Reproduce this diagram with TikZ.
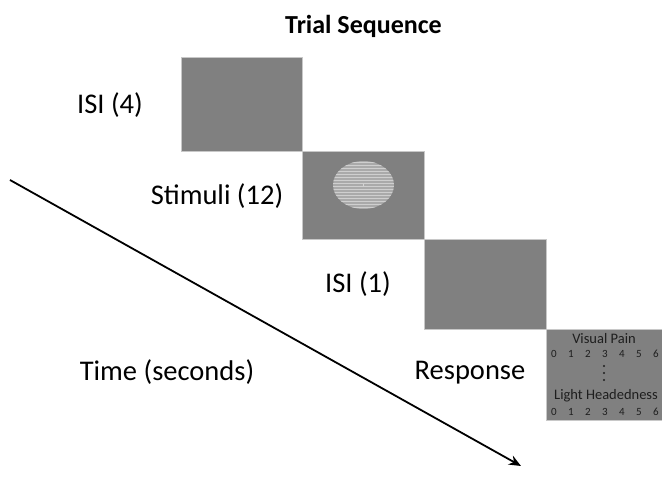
\documentclass[tikz,border=0pt]{standalone}
\usepackage{fontspec}
\setmainfont{Carlito}
\usetikzlibrary{arrows.meta}
\definecolor{boxgray}{HTML}{808080}
\definecolor{edgegray}{HTML}{C8C8C8}
\definecolor{stimgray}{HTML}{AAAAAA}
\definecolor{stimline}{HTML}{CFCFCF}
\definecolor{txtdark}{HTML}{1E1E1E}
\begin{document}
\begin{tikzpicture}[x=1pt,y=-1pt,
  screen/.style={draw=edgegray,line width=1pt,fill=boxgray},
  lbl/.style={font=\fontsize{28.5}{30}\selectfont,anchor=center,inner sep=0pt},
  small/.style={font=\fontsize{14.5}{16}\selectfont,text=txtdark,inner sep=0pt},
  tiny/.style={font=\fontsize{11}{12}\selectfont,text=txtdark,inner sep=0pt}]
\useasboundingbox (0,0) rectangle (662,481);
% title
\node[font=\bfseries\fontsize{26}{28}\selectfont,inner sep=0pt] (title) at (363.5,26) {Trial Sequence};
% screens
\path[screen] (181,58) rectangle (302,152) coordinate (s1);
\path[screen] (302,152) rectangle (424,240) coordinate (s2);
\path[screen] (424,240) rectangle (546,330) coordinate (s3);
\path[screen] (546,330) rectangle (663,420) coordinate (s4);
% stimulus
\begin{scope}
\clip (363.5,185) ellipse (30.5 and 24);
\fill[stimgray] (333,161) rectangle (394,209);
\foreach \yy in {162,165,...,209} {\draw[stimline,line width=0.7pt] (333,\yy) -- (394,\yy);}
\end{scope}
\fill[white] (363.5,185) circle (0.6);
% labels
\node[lbl] (isi4) at (110,105) {ISI (4)};
\node[lbl] (stim) at (217,196) {Stimuli (12)};
\node[lbl] (isi1) at (358,284) {ISI (1)};
\node[lbl] (time) at (167,372) {Time (seconds)};
\node[lbl] (resp) at (470,373) {Response};
% response screen content
\node[small] (vp) at (604,339) {Visual Pain};
\foreach \n [count=\i from 0] in {0,...,6} {\node[tiny] at (554+17*\i,354) {\n};}
\foreach \yy in {366,373,380} {\fill[txtdark] (604,\yy) circle (1.2);}
\node[small] (lh) at (606,396) {Light Headedness};
\foreach \n [count=\i from 0] in {0,...,6} {\node[tiny] at (554+17*\i,412) {\n};}
% time arrow
\coordinate (t0) at (10,180);
\coordinate (t1) at (521,466);
\draw[line width=1.8pt,-{Stealth[length=12pt,width=10pt]}] (t0) -- (t1);
\end{tikzpicture}
\end{document}
